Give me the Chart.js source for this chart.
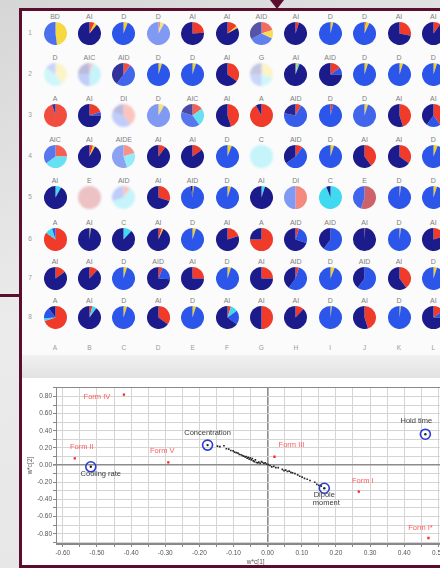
<!DOCTYPE html>
<html>
<head>
<meta charset="utf-8">
<script src="https://cdn.jsdelivr.net/npm/chart.js@4.4.1/dist/chart.umd.min.js"></script>
<style>
  html, body { margin: 0; padding: 0; width: 440px; height: 568px; overflow: hidden; }
  body { position: relative; background: linear-gradient(160deg, #d6d6d6 0%, #ebebeb 45%, #e4e4e4 100%);
         font-family: "Liberation Sans", Arial, sans-serif; }
  .bar { position: absolute; background: #5c0d2e; }
  #pointer { position: absolute; left: 270px; top: 0; width: 0; height: 0;
             border-left: 7px solid transparent; border-right: 7px solid transparent; border-top: 9px solid #5c0d2e; }
  #panelTop { position: absolute; left: 22px; top: 11px; width: 418px; height: 344px; background: #fbfbfb; }
  #band { position: absolute; left: 22px; top: 355px; width: 418px; height: 23px; background: linear-gradient(#f1f1f1, #e2e2e2); }
  #panelBottom { position: absolute; left: 22px; top: 378px; width: 418px; height: 187px; background: #ffffff; }
  .lab { position: absolute; width: 34px; text-align: center; font-size: 7px; line-height: 8px; color: #808080; white-space: nowrap; }
  .axlab { position: absolute; width: 14px; text-align: center; font-size: 6.5px; line-height: 8px; color: #9a9a9a; }
  .pie { position: absolute; }
  #scatter { position: absolute; left: 22px; top: 378px; }
</style>
</head>
<body>
<div id="panelTop"></div>
<div id="band"></div>
<div id="panelBottom"></div>
<canvas id="scatter" width="440" height="188"></canvas>
<div class="bar" style="left:19px;top:8px;width:421px;height:3px"></div>
<div class="bar" style="left:19px;top:8px;width:3px;height:560px"></div>
<div class="bar" style="left:19px;top:565px;width:421px;height:3px"></div>
<div class="bar" style="left:0;top:294px;width:20px;height:3px"></div>
<div id="pointer"></div>

<script>
// ---- Plate layout: wells A–L by rows 1–8 ----
const wellCols = ['A','B','C','D','E','F','G','H','I','J','K','L'];
const wellRows = ['1','2','3','4','5','6','7','8'];

// Forms identified in each well
const wellForms = [
  ['BD','AI','D','D','AI','AI','AID','AI','D','D','AI','AI'],
  ['D','AIC','AID','D','D','AI','G','AI','AID','D','D','D'],
  ['A','AI','DI','D','AIC','AI','A','AID','D','D','AI','AI'],
  ['AIC','AI','AIDE','AI','AI','D','C','AID','D','AI','AI','D'],
  ['AI','E','AID','AI','AID','D','AI','DI','C','E','D','D'],
  ['A','AI','C','AI','D','AI','A','AID','AID','AI','D','AI'],
  ['AI','AI','D','AID','AI','D','AI','AID','D','AID','AI','D'],
  ['A','AI','D','AI','D','AI','AI','AI','D','AI','D','AI']
];

// Share of each form per well (percent), rows 1–8, columns A–L
const shareA = [
  [0,7,0,3,24,14,20,5,0,2,28,10],
  [0,5,10,0,0,35,0,0,15,0,0,0],
  [95,20,40,0,15,45,92,8,4,0,45,40],
  [25,5,20,10,15,0,0,10,0,40,35,0],
  [0,0,10,30,0,0,0,50,0,0,0,0],
  [85,0,0,5,0,20,75,5,0,1,0,20],
  [15,12,0,6,25,0,25,5,0,0,40,0],
  [70,4,0,35,0,5,50,12,0,45,0,15]
];
const shareB = [
  [48,4,6,5,0,3,12,0,4,5,0,0],
  [40,0,0,5,5,0,30,3,0,5,5,5],
  [0,0,0,8,0,0,0,0,0,5,0,0],
  [0,3,0,0,0,6,0,0,5,0,0,6],
  [0,0,0,0,2,5,0,0,0,0,2,5],
  [0,2,0,2,5,0,0,0,0,0,2,0],
  [0,0,5,0,0,5,0,0,6,0,0,5],
  [0,0,5,0,5,0,0,0,2,0,2,0]
];
const shareC = [
  [0,0,0,0,0,0,0,0,0,0,0,0],
  [45,45,0,0,0,0,20,3,0,0,0,0],
  [0,0,0,0,25,0,0,0,0,0,0,0],
  [40,0,25,0,0,0,100,0,0,0,0,0],
  [8,0,60,0,0,0,5,0,94,0,0,0],
  [10,0,12,0,0,0,0,0,0,0,0,0],
  [0,0,0,0,0,0,0,0,0,0,0,0],
  [4,6,0,0,0,10,0,0,0,0,0,0]
];
const shareE = [
  [0,0,0,0,0,0,0,0,0,0,0,0],
  [0,0,0,0,0,0,0,0,0,0,0,0],
  [0,0,0,0,0,0,0,0,0,0,0,0],
  [0,0,0,0,0,0,0,0,0,0,0,0],
  [0,100,0,0,0,0,0,0,0,55,0,0],
  [0,0,0,0,0,0,0,0,0,0,0,0],
  [0,0,0,0,0,0,0,0,0,0,0,0],
  [0,0,0,0,0,0,0,0,0,0,0,0]
];
const shareD = [
  [52,0,94,92,0,0,35,0,96,93,0,0],
  [15,25,50,95,95,0,25,0,10,95,95,95],
  [0,5,40,92,40,0,0,70,96,95,0,20],
  [35,0,55,0,0,94,0,55,95,0,0,94],
  [0,0,30,0,95,95,0,50,0,45,98,95],
  [5,0,0,0,95,0,0,25,60,0,98,0],
  [0,0,95,20,0,95,0,55,94,60,0,95],
  [16,0,95,0,95,20,0,0,98,0,98,10]
];
const shareI = [
  [0,89,0,0,76,83,33,95,0,0,72,90],
  [0,25,40,0,0,65,25,94,75,0,0,0],
  [5,75,20,0,20,55,8,22,0,0,55,40],
  [0,92,0,90,85,0,0,35,0,60,65,0],
  [92,0,0,70,3,0,95,0,6,0,0,0],
  [0,98,88,93,0,80,25,70,40,99,0,80],
  [85,88,0,74,75,0,75,40,0,40,60,0],
  [10,90,0,65,0,65,50,88,0,55,0,75]
];
// Low-confidence wells are drawn washed out (0 = solid, 1 = white)
const wellFade = [
  [0.15,0,0,0.4,0,0,0.25,0,0,0,0,0],
  [0.75,0.7,0.1,0,0,0,0.75,0,0,0,0,0],
  [0.1,0,0.7,0.4,0.2,0,0,0.05,0,0.1,0,0],
  [0.2,0,0.45,0,0,0,0.7,0,0,0,0,0],
  [0,0.65,0.7,0,0,0,0,0.4,0,0.1,0,0],
  [0,0,0,0,0,0,0,0,0,0,0,0],
  [0,0,0,0,0,0,0,0,0,0,0,0],
  [0,0,0,0,0,0,0,0,0,0,0,0]
];

// ---- Loadings plot data ----
const loadX = [-0.147,-0.140,-0.128,-0.121,-0.114,-0.108,-0.101,-0.097,-0.092,-0.087,-0.083,-0.078,-0.074,-0.070,-0.066,-0.063,-0.060,-0.057,-0.054,-0.051,-0.048,-0.045,-0.042,-0.039,-0.036,-0.033,-0.029,-0.026,-0.022,-0.018,-0.015,-0.011,-0.007,-0.003,0.002,0.007,0.012,0.018,0.024,0.031,0.043,0.048,0.053,0.058,0.063,0.068,0.073,0.080,0.088,0.094,0.101,0.108,0.116,0.124,0.138,0.144,0.150,0.157];
const loadY = [0.22,0.215,0.225,0.19,0.185,0.17,0.165,0.15,0.145,0.14,0.125,0.12,0.11,0.105,0.095,0.1,0.08,0.09,0.07,0.085,0.06,0.075,0.05,0.04,0.06,0.03,0.025,0.035,0.02,0.04,0.03,0.02,0.025,0.01,0.005,-0.005,-0.02,-0.015,-0.03,-0.03,-0.05,-0.065,-0.06,-0.075,-0.07,-0.085,-0.09,-0.1,-0.115,-0.13,-0.14,-0.155,-0.165,-0.18,-0.2,-0.225,-0.235,-0.245];

const formNames = ['Form IV','Form II','Form V','Form III','Form I','Form I*'];
const formX = [-0.421,-0.565,-0.291,0.020,0.267,0.471];
const formY = [0.822,0.078,0.031,0.097,-0.31,-0.85];

const varNames = ['Cooling rate','Concentration','Dipole\nmoment','Hold time'];
const varX = [-0.518,-0.176,0.166,0.462];
const varY = [-0.02,0.233,-0.27,0.36];

const xTickLabels = ['-0.60','-0.50','-0.40','-0.30','-0.20','-0.10','0.00','0.10','0.20','0.30','0.40','0.50'];
const yTickLabels = ['-0.80','-0.60','-0.40','-0.20','0.00','0.20','0.40','0.60','0.80'];

// ---- Styling ----
const formColors = { A: '#f03a2a', B: '#f4d11e', C: '#3fdaf0', E: '#c9505a', D: '#2c55ea', I: '#1b1b8c' };
const sliceOrder = ['A','B','C','E','D','I'];
const shares = { A: shareA, B: shareB, C: shareC, E: shareE, D: shareD, I: shareI };
const colX = c => 55 + 34.4 * c;
const rowCenters = [33, 74, 115, 156, 197, 239, 278, 317];
const PIE = 23;

function washed(hex, f) {
  const n = parseInt(hex.slice(1), 16);
  const ch = [(n >> 16) & 255, (n >> 8) & 255, n & 255].map(v => Math.round(v + (255 - v) * f));
  return `rgb(${ch[0]},${ch[1]},${ch[2]})`;
}

function addDiv(cls, text, left, top) {
  const d = document.createElement('div');
  d.className = cls; d.textContent = text;
  d.style.left = left + 'px'; d.style.top = top + 'px';
  document.body.appendChild(d);
  return d;
}

// Row and column headers
wellRows.forEach((r, i) => addDiv('axlab', r, 23, rowCenters[i] - 4));
wellCols.forEach((c, j) => addDiv('axlab', c, colX(j) - 7, 344));

// One pie per well
wellRows.forEach((_, r) => {
  wellCols.forEach((_, c) => {
    const cx = colX(c), cy = rowCenters[r];
    addDiv('lab', wellForms[r][c], cx - 17, cy - 20);
    const cv = document.createElement('canvas');
    cv.className = 'pie';
    cv.width = PIE; cv.height = PIE;
    cv.style.left = (cx - PIE / 2) + 'px';
    cv.style.top = (cy - PIE / 2) + 'px';
    const f = wellFade[r][c];
    if (f >= 0.6) cv.style.filter = 'blur(1.3px)';
    else if (f >= 0.35) cv.style.filter = 'blur(0.5px)';
    document.body.appendChild(cv);
    new Chart(cv, {
      type: 'pie',
      data: {
        labels: sliceOrder,
        datasets: [{
          data: sliceOrder.map(k => shares[k][r][c]),
          backgroundColor: sliceOrder.map(k => washed(formColors[k], f)),
          borderWidth: 0,
          hoverOffset: 0
        }]
      },
      options: {
        responsive: false, animation: false, events: [],
        layout: { padding: 0 },
        plugins: { legend: { display: false }, tooltip: { enabled: false } }
      }
    });
  });
});

// ---- Loadings scatter ----
const labelPlacement = {
  forms: [[-27, 2], [7, -11], [-6, -11], [17, -12], [4, -11], [-8, -10]],
  vars: [[10, 7], [0, -12], [0, 7], [-9, -13]]
};

const pointLabels = {
  id: 'pointLabels',
  afterDatasetsDraw(chart) {
    const { ctx, scales: { x, y } } = chart;
    ctx.save();
    ctx.textAlign = 'center';
    ctx.textBaseline = 'middle';
    ctx.font = '7.5px "Liberation Sans", Arial, sans-serif';
    ctx.fillStyle = '#ff5a5a';
    formNames.forEach((n, i) => {
      const o = labelPlacement.forms[i];
      ctx.fillText(n, x.getPixelForValue(formX[i]) + o[0], y.getPixelForValue(formY[i]) + o[1]);
    });
    ctx.fillStyle = '#3a3a3a';
    varNames.forEach((n, i) => {
      const o = labelPlacement.vars[i];
      n.split('\n').forEach((line, k) => {
        ctx.fillText(line, x.getPixelForValue(varX[i]) + o[0] + k * 2, y.getPixelForValue(varY[i]) + o[1] + k * 8);
      });
    });
    ctx.restore();
  }
};

const plotFrame = {
  id: 'plotFrame',
  beforeDatasetsDraw(chart) {
    const { ctx, chartArea: a } = chart;
    ctx.save();
    ctx.strokeStyle = '#8a8a8a';
    ctx.lineWidth = 1;
    ctx.strokeRect(a.left + 0.5, a.top + 0.5, a.width - 1, a.height - 1);
    ctx.restore();
  }
};

const xGrid = [], yGrid = [];
for (let k = -12; k <= 11; k++) xGrid.push(k * 0.05);
for (let k = -9; k <= 9; k++) yGrid.push(k * 0.1);
const fmt = v => (Math.abs(v) < 1e-9 ? 0 : v).toFixed(2);
const tickFont = { family: '"Liberation Sans", Arial, sans-serif', size: 6.5 };
const gridColor = c => (Math.abs(c.tick.value) < 1e-9 ? '#8c8c8c' : '#d4d4d4');
const gridWidth = c => (Math.abs(c.tick.value) < 1e-9 ? 1.6 : 1);

new Chart(document.getElementById('scatter'), {
  type: 'scatter',
  data: {
    datasets: [
      { data: loadX.map((v, i) => ({ x: v, y: loadY[i] })), pointStyle: 'rect', pointRadius: 1.2,
        backgroundColor: '#2a2a2a', borderWidth: 0 },
      { data: formX.map((v, i) => ({ x: v, y: formY[i] })), pointStyle: 'rect', pointRadius: 1.6,
        backgroundColor: '#ff2020', borderWidth: 0 },
      { data: varX.map((v, i) => ({ x: v, y: varY[i] })), pointRadius: 5,
        backgroundColor: 'rgba(0,0,0,0)', borderColor: '#2a3ad6', borderWidth: 1.6 },
      { data: varX.map((v, i) => ({ x: v, y: varY[i] })), pointRadius: 1.2,
        backgroundColor: '#222', borderWidth: 0 }
    ]
  },
  options: {
    responsive: false, animation: false, events: [],
    layout: { padding: { top: 9, right: 3.5, left: 0, bottom: 0 } },
    plugins: { legend: { display: false }, tooltip: { enabled: false } },
    scales: {
      x: {
        type: 'linear', min: -0.62, max: 0.55,
        afterBuildTicks: s => { s.ticks = xGrid.map(v => ({ value: v })); },
        afterFit: s => { s.height = 22; },
        ticks: {
          autoSkip: false, maxRotation: 0, padding: 2, color: '#555', font: tickFont,
          callback: v => { const t = fmt(v); return xTickLabels.includes(t) && Math.abs(Math.round(v * 10) - v * 10) < 1e-6 ? t : ''; }
        },
        grid: { color: gridColor, lineWidth: gridWidth, tickLength: 3, tickColor: '#888' },
        border: { display: true, color: '#888' },
        title: { display: true, text: 'w*c[1]', color: '#555', font: tickFont, padding: { top: 0, bottom: 0 } }
      },
      y: {
        type: 'linear', min: -0.92, max: 0.91,
        afterBuildTicks: s => { s.ticks = yGrid.map(v => ({ value: v })); },
        afterFit: s => { s.width = 34; },
        ticks: {
          autoSkip: false, padding: 1, color: '#555', font: tickFont,
          callback: v => { const t = fmt(v); return yTickLabels.includes(t) && Math.abs(Math.round(v * 5) - v * 5) < 1e-6 ? t : ''; }
        },
        grid: { color: gridColor, lineWidth: gridWidth, tickLength: 3, tickColor: '#888' },
        border: { display: true, color: '#888' },
        title: { display: true, text: 'w*c[2]', color: '#555', font: tickFont, padding: { top: 4, bottom: 0 } }
      }
    }
  },
  plugins: [plotFrame, pointLabels]
});
</script>
</body>
</html>
